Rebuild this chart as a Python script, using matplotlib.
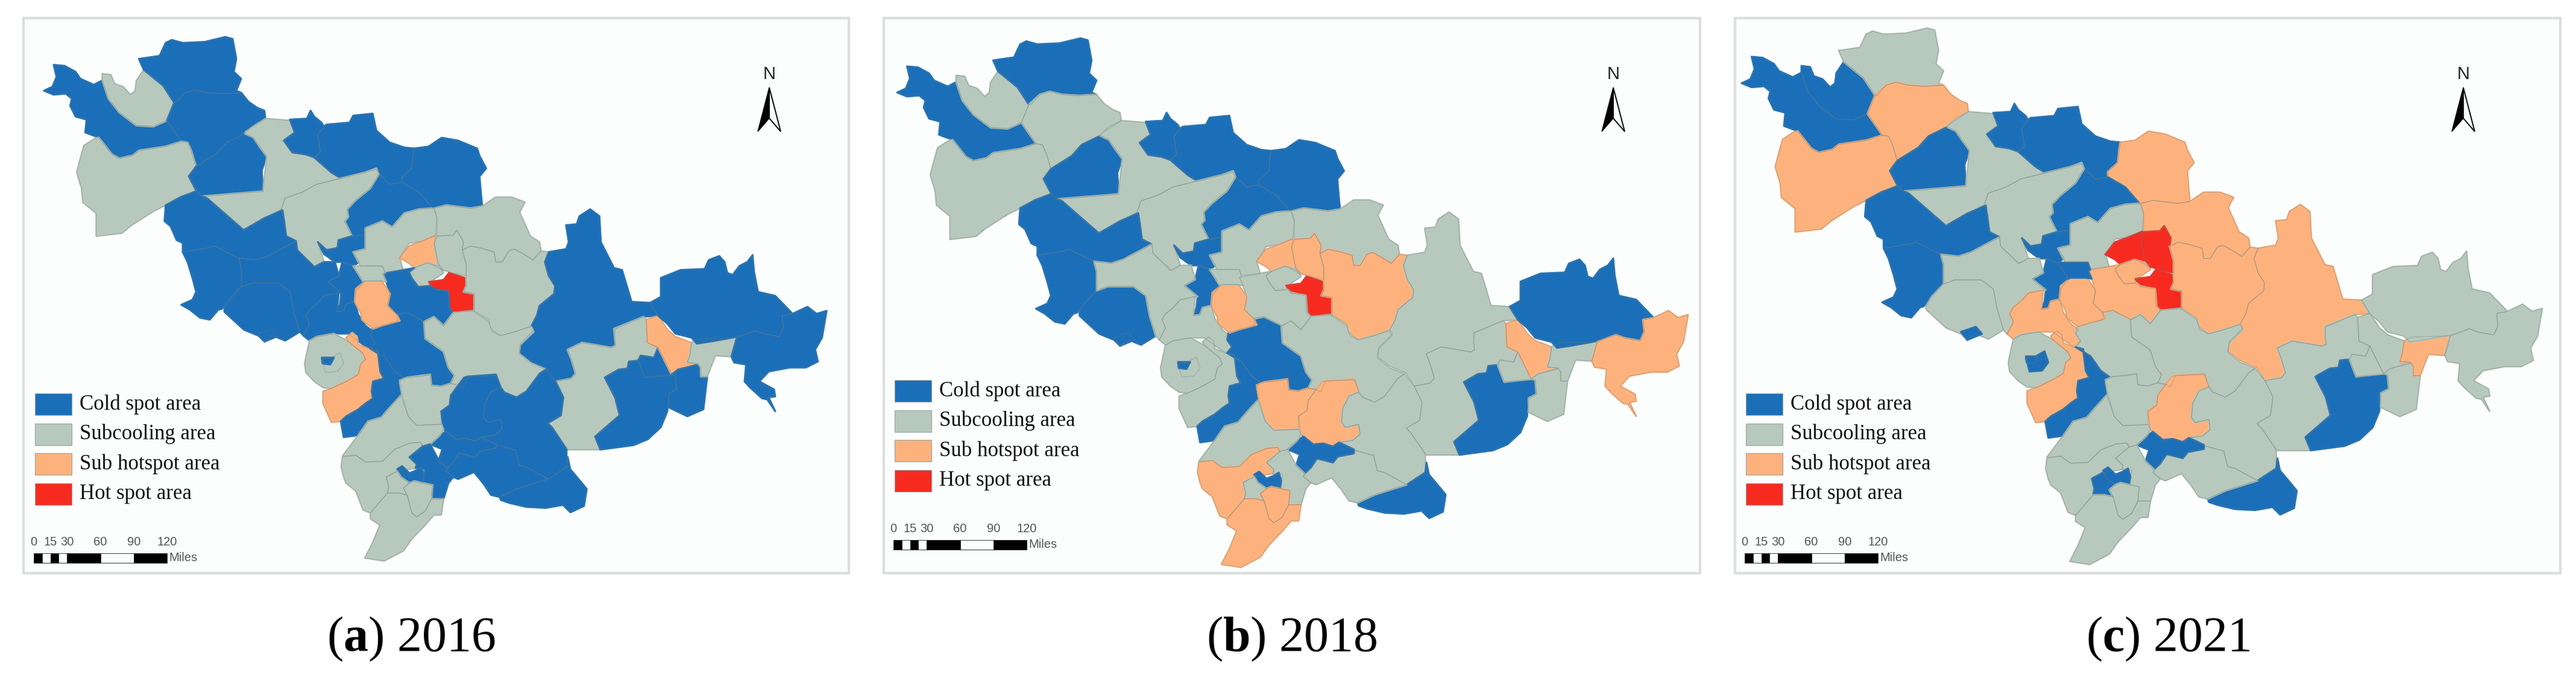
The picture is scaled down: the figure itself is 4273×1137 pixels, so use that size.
import matplotlib
matplotlib.use('Agg')
import matplotlib.pyplot as plt
from matplotlib.patches import Polygon, Rectangle

plt.rcParams['font.family'] = ['Liberation Serif', 'DejaVu Sans']
plt.rcParams['mathtext.fontset'] = 'custom'
plt.rcParams['mathtext.bf'] = 'Liberation Serif:bold'
plt.rcParams['mathtext.rm'] = 'Liberation Serif'

W, H = 4273, 1137

nw_strip = [(60,180),(105,185),(150,215),(170,250),(225,280),(260,258),(285,350),(330,420),(400,485),(470,490),(525,460),(585,565),(520,590),(410,610),(385,635),(330,650),(300,630),(245,545),(190,520),(195,455),(150,440),(128,385),(135,350),(110,325),(60,330),(20,310),(55,290),(72,240)]
nw_pocket = [(260,225),(295,230),(310,275),(345,290),(375,330),(395,310),(400,260),(430,205),(510,285),(555,370),(525,460),(470,490),(400,485),(330,420),(285,350),(260,258)]
north_top = [(410,150),(495,135),(520,70),(545,55),(590,70),(680,65),(765,40),(795,50),(810,150),(800,215),(830,250),(810,310),(830,320),(760,325),(690,320),(640,305),(600,320),(565,370),(555,370),(510,285),(430,205)]
north_mid = [(555,370),(600,320),(640,305),(690,320),(760,325),(830,320),(860,365),(895,395),(925,410),(930,450),(880,480),(850,515),(845,525),(770,570),(730,625),(645,690),(625,610),(610,570),(585,565),(525,460)]
west_big = [(185,585),(230,550),(245,545),(300,630),(330,650),(385,635),(410,610),(520,590),(585,565),(610,570),(625,610),(645,690),(615,740),(645,810),(580,845),(520,885),(470,915),(380,985),(340,1025),(235,1040),(235,925),(180,870),(175,800),(155,720),(170,650)]
diamond = [(845,525),(880,545),(905,590),(935,640),(915,710),(920,815),(670,840),(645,810),(615,740),(645,690),(730,625),(770,570)]
wedge = [(850,515),(930,450),(1030,460),(1050,520),(1005,560),(1040,620),(1095,630),(1130,645),(1200,720),(1240,750),(1140,780),(1080,820),(1010,850),(995,905),(925,950),(840,1010),(690,850),(670,840),(920,815),(935,640),(905,590),(880,545),(845,525)]
n_centre_a = [(1030,455),(1100,450),(1115,410),(1130,440),(1160,470),(1170,490),(1145,530),(1155,620),(1130,645),(1095,630),(1040,620),(1005,560),(1050,520)]
n_centre_b = [(1170,490),(1180,480),(1275,470),(1290,435),(1370,425),(1385,510),(1440,570),(1500,595),(1540,600),(1535,640),(1530,700),(1490,745),(1490,770),(1440,780),(1400,730),(1385,705),(1340,720),(1240,750),(1200,720),(1130,645),(1155,620),(1145,530)]
n_east = [(1540,600),(1600,590),(1653,546),(1720,560),(1799,600),(1810,640),(1836,700),(1809,740),(1815,830),(1820,890),(1771,900),(1672,885),(1617,900),(1560,820),(1490,770),(1490,745),(1530,700),(1535,640)]
n_south = [(1395,730),(1440,780),(1490,770),(1560,820),(1617,900),(1560,905),(1500,925),(1450,995),(1410,965),(1340,1000),(1340,1030),(1285,1040),(1255,965),(1270,945),(1265,905),(1300,860),(1360,800)]
corridor = [(995,905),(1010,850),(1080,820),(1140,780),(1240,750),(1340,720),(1385,700),(1395,730),(1360,800),(1300,860),(1265,905),(1270,945),(1255,965),(1285,1040),(1230,1060),(1225,1100),(1180,1110),(1145,1070),(1170,1170),(1135,1195),(1060,1110),(1055,1060),(1015,1040),(1010,960)]
cross_a = [(1145,1070),(1180,1110),(1225,1100),(1230,1060),(1285,1040),(1340,1030),(1340,1105),(1290,1120),(1315,1170),(1290,1190),(1245,1170),(1215,1170),(1170,1130)]
cross_b = [(1245,1170),(1290,1190),(1311,1230),(1331,1270),(1301,1320),(1296,1370),(1261,1380),(1251,1415),(1223,1420),(1236,1380),(1241,1325),(1186,1270),(1231,1240)]
centre_n = [(1340,1000),(1410,965),(1450,995),(1500,925),(1560,905),(1617,900),(1623,910),(1634,950),(1628,1035),(1574,1065),(1519,1075),(1480,1150),(1495,1210),(1420,1220),(1410,1190),(1320,1190),(1290,1120),(1340,1105)]
centre_ne = [(1623,900),(1672,885),(1771,900),(1820,890),(1875,845),(1940,845),(1995,870),(1973,920),(2017,1040),(2055,1070),(2061,1115),(2028,1160),(1989,1130),(1951,1105),(1929,1115),(1902,1170),(1875,1170),(1869,1120),(1814,1100),(1771,1090),(1738,1110),(1743,1070),(1716,1010),(1700,1035),(1634,1040),(1634,950)]
hot_left = [(1480,1150),(1519,1090),(1574,1065),(1628,1038),(1623,1080),(1639,1180),(1661,1215),(1640,1200),(1596,1172),(1541,1200),(1519,1175)]
hot_peak = [(1634,1040),(1700,1035),(1716,1010),(1743,1070),(1738,1110),(1754,1180),(1754,1240),(1700,1225),(1661,1210),(1639,1180),(1623,1080)]
small_ring = [(1541,1200),(1596,1175),(1639,1190),(1661,1225),(1606,1270),(1601,1290),(1557,1295),(1530,1250),(1519,1220)]
hot_core = [(1601,1270),(1661,1260),(1683,1225),(1749,1250),(1754,1290),(1743,1320),(1787,1330),(1787,1415),(1700,1420),(1683,1400),(1683,1310),(1623,1310)]
east_of_hot = [(1738,1110),(1771,1090),(1814,1100),(1869,1120),(1875,1170),(1902,1170),(1929,1115),(1951,1105),(1989,1130),(2028,1160),(2061,1115),(2093,1120),(2077,1170),(2093,1240),(2119,1290),(2115,1330),(2055,1390),(2044,1440),(2022,1490),(1957,1520),(1891,1540),(1853,1500),(1847,1460),(1787,1415),(1787,1330),(1743,1320),(1754,1290),(1754,1180)]
tall_east = [(2093,1120),(2164,1105),(2175,1070),(2164,985),(2208,980),(2219,940),(2263,905),(2301,940),(2307,1070),(2361,1200),(2394,1210),(2433,1370),(2509,1375),(2542,1440),(2482,1445),(2367,1505),(2361,1560),(2367,1590),(2350,1600),(2230,1575),(2170,1610),(2186,1660),(2203,1730),(2186,1755),(2121,1770),(2088,1705),(2022,1670),(1973,1625),(1979,1575),(2033,1510),(2022,1490),(2044,1440),(2055,1390),(2115,1330),(2119,1290),(2093,1240),(2077,1170)]
se_gray = [(2121,1770),(2186,1755),(2203,1730),(2186,1660),(2170,1610),(2230,1575),(2350,1600),(2367,1590),(2361,1505),(2482,1445),(2493,1460),(2498,1575),(2542,1600),(2525,1650),(2470,1640),(2460,1665),(2422,1670),(2416,1705),(2380,1710),(2323,1750),(2365,1850),(2384,1940),(2283,2047),(2305,2112),(2170,2112),(2106,2000),(2088,1980),(2143,1940),(2153,1850)]
se_blue = [(2323,1750),(2380,1710),(2416,1705),(2422,1670),(2460,1665),(2487,1750),(2613,1740),(2618,1810),(2586,1830),(2580,1920),(2553,2000),(2500,2060),(2441,2090),(2305,2112),(2283,2047),(2384,1940),(2365,1850)]
sliver = [(2470,1640),(2525,1650),(2542,1600),(2597,1735),(2487,1750),(2460,1665)]
strip_orange = [(2493,1460),(2542,1440),(2580,1510),(2613,1545),(2679,1575),(2673,1635),(2662,1675),(2706,1680),(2624,1710),(2597,1735),(2542,1600),(2498,1575)]
east_narrow = [(2597,1735),(2624,1710),(2706,1685),(2717,1700),(2717,1745),(2744,1745),(2728,1910),(2662,1945),(2586,1900),(2586,1830),(2618,1810),(2613,1740)]
east_link = [(2679,1575),(2712,1555),(2865,1550),(2843,1645),(2777,1640),(2761,1690),(2744,1745),(2717,1745),(2717,1700),(2706,1680),(2662,1675),(2673,1635)]
ne_big = [(2509,1375),(2553,1345),(2553,1250),(2635,1210),(2733,1205),(2750,1160),(2793,1140),(2815,1170),(2826,1225),(2848,1235),(2876,1190),(2908,1170),(2930,1135),(2936,1220),(2952,1320),(3023,1340),(3094,1430),(3051,1440),(3056,1500),(3040,1545),(2974,1530),(2941,1515),(2870,1545),(2755,1570),(2701,1580),(2679,1550),(2613,1530),(2580,1480),(2542,1440)]
far_east = [(3051,1440),(3094,1430),(3155,1395),(3193,1430),(3234,1415),(3215,1550),(3187,1610),(3198,1670),(3149,1700),(3083,1700),(2996,1720),(2958,1770),(3018,1810),(3023,1845),(2996,1850),(3023,1920),(2990,1860),(2969,1855),(2919,1800),(2897,1770),(2903,1685),(2854,1675),(2843,1645),(2865,1550),(2941,1515),(2974,1530),(3040,1545),(3056,1500)]
west_upper = [(520,885),(580,845),(645,815),(670,840),(690,850),(840,1010),(925,950),(1000,910),(1015,1040),(1055,1065),(940,1140),(890,1160),(820,1150),(720,1090),(690,1100),(590,1120),(590,1075),(565,1060),(540,990),(515,965)]
west_lower = [(590,1120),(690,1100),(720,1090),(820,1150),(831,1200),(831,1290),(781,1360),(751,1405),(736,1410),(701,1460),(661,1450),(620,1410),(584,1385),(630,1360),(645,1320),(630,1250),(610,1170)]
west_oval = [(831,1295),(876,1275),(981,1275),(1031,1320),(1046,1420),(1071,1520),(1011,1565),(961,1540),(926,1570),(901,1540),(841,1510),(761,1420),(761,1405),(781,1360)]
oval_spot = [(900,1530),(960,1505),(985,1540),(926,1570)]
mid_west = [(820,1150),(890,1160),(940,1140),(1055,1065),(1060,1110),(1130,1195),(1170,1170),(1215,1170),(1231,1240),(1186,1270),(1241,1325),(1231,1325),(1171,1340),(1141,1380),(1111,1410),(1096,1440),(1111,1480),(1086,1540),(1071,1520),(1046,1420),(1031,1320),(981,1275),(876,1275),(831,1295),(831,1200)]
mid_core = [(1171,1340),(1231,1325),(1223,1420),(1251,1415),(1261,1380),(1296,1370),(1311,1435),(1341,1490),(1371,1520),(1361,1540),(1381,1575),(1356,1605),(1301,1560),(1271,1530),(1211,1530),(1141,1545),(1111,1565),(1086,1540),(1111,1480),(1096,1440),(1111,1410),(1141,1380)]
ring = [(1111,1565),(1141,1545),(1211,1530),(1271,1570),(1331,1630),(1341,1660),(1321,1680),(1311,1735),(1261,1770),(1201,1805),(1166,1800),(1131,1770),(1096,1725),(1091,1680),(1101,1620)]
ring_inner = [(1161,1655),(1201,1650),(1236,1625),(1251,1680),(1226,1720),(1176,1725)]
ring_spot = [(1161,1650),(1211,1650),(1196,1685),(1164,1680)]
crescent = [(1261,1550),(1286,1525),(1306,1545),(1311,1585),(1361,1610),(1391,1615),(1401,1720),(1416,1755),(1371,1770),(1366,1820),(1371,1855),(1341,1880),(1311,1910),(1261,1945),(1236,1970),(1201,1975),(1166,1880),(1166,1820),(1201,1805),(1261,1770),(1311,1735),(1321,1680),(1341,1660),(1331,1630),(1271,1570)]
south_blue = [(1366,1505),(1471,1470),(1471,1430),(1511,1425),(1581,1470),(1586,1555),(1661,1620),(1681,1700),(1706,1740),(1691,1780),(1651,1795),(1611,1790),(1606,1735),(1566,1745),(1496,1750),(1461,1720),(1421,1650),(1361,1605),(1381,1575),(1361,1540)]
long_strip = [(1361,1605),(1421,1650),(1461,1720),(1496,1750),(1476,1775),(1486,1840),(1441,1900),(1406,1950),(1351,1970),(1311,2040),(1251,2050),(1239,1970),(1261,1945),(1311,1910),(1341,1880),(1371,1855),(1366,1820),(1371,1770),(1416,1755),(1401,1720),(1391,1615)]
under_hot = [(1411,1230),(1495,1210),(1541,1200),(1519,1220),(1530,1250),(1557,1295),(1606,1290),(1621,1305),(1681,1320),(1686,1405),(1701,1425),(1661,1490),(1621,1445),(1586,1470),(1511,1425),(1471,1435),(1431,1390),(1441,1330),(1426,1270)]
pill = [(1296,1370),(1301,1305),(1341,1265),(1406,1265),(1426,1300),(1441,1330),(1431,1390),(1471,1440),(1481,1465),(1406,1490),(1371,1505),(1326,1460),(1321,1425)]
tiny_north = [(1320,1190),(1410,1190),(1420,1225),(1411,1230),(1426,1270),(1406,1265),(1341,1265),(1331,1270),(1311,1230),(1290,1190)]
centre_big = [(1661,1490),(1701,1425),(1781,1415),(1846,1470),(1861,1520),(1896,1540),(2021,1495),(2031,1520),(1976,1585),(1971,1630),(2021,1680),(2081,1710),(2056,1730),(2001,1820),(1961,1850),(1911,1825),(1896,1800),(1881,1740),(1761,1745),(1741,1800),(1721,1785),(1691,1780),(1706,1740),(1681,1700),(1661,1620),(1586,1555),(1581,1470),(1621,1445)]
south_o1 = [(1481,1765),(1511,1750),(1606,1735),(1611,1790),(1651,1795),(1691,1780),(1721,1790),(1691,1840),(1686,1890),(1651,1920),(1651,1985),(1551,1990),(1516,1945),(1491,1840)]
south_o2 = [(1746,1750),(1761,1745),(1876,1735),(1896,1800),(1856,1820),(1831,1880),(1826,1950),(1841,1975),(1896,1960),(1901,2010),(1871,2040),(1816,2050),(1791,2070),(1751,2055),(1711,2060),(1661,2010),(1651,1920),(1686,1890),(1691,1840),(1721,1790)]
south_gray = [(1856,1820),(1896,1800),(1911,1825),(1961,1850),(2001,1820),(2056,1730),(2081,1710),(2121,1770),(2153,1850),(2143,1940),(2088,1980),(2106,2000),(2166,2110),(2166,2200),(2091,2260),(2001,2200),(1971,2190),(1956,2115),(1881,2090),(1816,2050),(1871,2040),(1901,2010),(1896,1960),(1841,1975),(1826,1950),(1831,1880)]
south_tip = [(1891,2350),(1961,2310),(2091,2260),(2166,2200),(2171,2150),(2181,2210),(2229,2280),(2249,2310),(2238,2395),(2182,2427),(2151,2390),(2081,2405),(2001,2400),(1931,2380),(1896,2365)]
south_mid = [(1881,2090),(1956,2115),(1971,2190),(2001,2200),(2091,2260),(1961,2310),(1891,2350),(1856,2340),(1826,2285),(1786,2225),(1721,2260),(1701,2250),(1671,2220),(1676,2205),(1701,2175),(1726,2130),(1791,2150),(1811,2120),(1876,2105)]
south_cross = [(1606,2085),(1646,2040),(1671,2020),(1711,2060),(1751,2055),(1791,2070),(1816,2050),(1876,2085),(1876,2105),(1811,2120),(1791,2150),(1726,2130),(1701,2175),(1676,2205),(1641,2165),(1656,2110)]
sw_gray = [(1246,2145),(1286,2080),(1311,2040),(1351,1970),(1406,1950),(1441,1900),(1486,1840),(1516,1945),(1551,1990),(1651,1985),(1661,2010),(1646,2040),(1606,2085),(1576,2095),(1566,2075),(1521,2080),(1461,2110),(1411,2170),(1341,2175),(1301,2140)]
sw_orange = [(1246,2150),(1301,2140),(1341,2175),(1411,2170),(1461,2110),(1521,2080),(1566,2075),(1576,2095),(1521,2150),(1551,2185),(1546,2205),(1471,2220),(1426,2250),(1436,2300),(1431,2330),(1361,2430),(1331,2415),(1301,2320),(1261,2280),(1251,2250),(1241,2200)]
s_inner = [(1576,2095),(1606,2085),(1641,2165),(1676,2205),(1671,2220),(1701,2250),(1681,2280),(1661,2360),(1611,2360),(1616,2290),(1576,2280),(1586,2210),(1546,2205),(1551,2185),(1521,2150)]
s_hook = [(1471,2210),(1491,2195),(1521,2230),(1551,2215),(1571,2200),(1581,2240),(1576,2280),(1541,2270),(1521,2280),(1486,2250)]
s_small = [(1426,2250),(1471,2220),(1486,2250),(1521,2280),(1496,2305),(1511,2340),(1476,2330),(1431,2330),(1436,2300)]
s_oval = [(1496,2305),(1521,2280),(1541,2270),(1576,2280),(1616,2290),(1611,2360),(1586,2420),(1551,2450),(1531,2430),(1516,2360),(1511,2340)]
s_end = [(1361,2430),(1431,2330),(1476,2330),(1511,2340),(1516,2360),(1531,2430),(1551,2450),(1586,2420),(1611,2360),(1661,2360),(1651,2440),(1621,2440),(1586,2490),(1531,2560),(1496,2620),(1417,2671),(1338,2656),(1370,2580),(1390,2520),(1400,2490),(1361,2460)]

shapes = [nw_strip, nw_pocket, north_top, north_mid, west_big, diamond, wedge, n_centre_a, n_centre_b,
          n_east, n_south, corridor, cross_a, cross_b, centre_n, centre_ne, hot_left, hot_peak, small_ring,
          hot_core, east_of_hot, tall_east, se_gray, se_blue, sliver, strip_orange, east_narrow, east_link,
          ne_big, far_east, west_upper, west_lower, west_oval, oval_spot, mid_west, mid_core, ring, ring_inner,
          ring_spot, crescent, south_blue, long_strip, under_hot, pill, tiny_north, centre_big, south_o1,
          south_o2, south_gray, south_tip, south_mid, south_cross, sw_gray, sw_orange, s_inner, s_hook,
          s_small, s_oval, s_end]

# Class of each region per year: 0 cold, 1 subcooling, 2 sub hotspot, 3 hot
class_2016 = [0,1,0,0,1,0,1,0,0, 0,0,1,0,0,1,1,2,1,1, 3,1,0,1,0,0,2,0,1, 0,0,0,0,0,0,0,0,1,1, 0,2,0,0,0,2,1,1,1, 0,0,0,0,0,1,1,0,0, 1,1,1]
class_2018 = [0,1,0,1,1,0,1,0,0, 0,0,1,0,0,1,1,2,2,1, 3,2,1,1,0,1,2,1,1, 0,2,0,0,0,0,1,1,1,1, 0,1,0,0,1,2,1,1,2, 2,1,0,1,0,1,2,1,0, 1,2,2]
class_2021 = [0,0,1,2,2,0,1,0,0, 2,0,1,0,0,1,2,3,3,2, 3,2,2,1,0,1,1,1,2, 1,1,0,0,1,0,1,2,1,0, 0,2,1,0,2,2,0,1,1, 2,1,0,1,0,1,1,1,0, 0,1,1]

legend_labels = ['Cold spot area', 'Subcooling area', 'Sub hotspot area', 'Hot spot area']
class_colors = ['#1b6fb8', '#b7c8bc', '#fdb27d', '#f72a20']
scale_ticks = [0, 15, 30, 60, 90, 120]
scale_parts = [0, 7.5, 15, 22.5, 30, 60, 90, 120]
captions = [r'($\mathbf{a}$) 2016', r'($\mathbf{b}$) 2018', r'($\mathbf{c}$) 2021']
year_classes = [class_2016, class_2018, class_2021]

# Pixel layout of each panel
box_x = [(39, 1408), (1466, 2820), (2878, 4247)]
box_y = (30, 950)
map_fit = [(64.7, 0.404, 48.0, 0.3301), (1480, 0.4082, 50, 0.3333), (2880.7, 0.4132, 33.2, 0.3378)]
legend_xy = [(58, 652), (1484, 630), (2896, 652)]
north_x = [1276, 2676, 4086]
caption_x = [682, 2143, 3596]

fig = plt.figure(figsize=(W / 100, H / 100), dpi=100, facecolor='white')

for i in range(3):
    x1, x2 = box_x[i]
    y1, y2 = box_y
    ax = fig.add_axes([x1 / W, 1 - y2 / H, (x2 - x1) / W, (y2 - y1) / H], facecolor='#fcfefe')
    x0, kx, y0, ky = map_fit[i]
    ax.set_xlim((x1 - x0) / kx, (x2 - x0) / kx)
    ax.set_ylim((y2 - y0) / ky, (y1 - y0) / ky)
    ax.set_xticks([])
    ax.set_yticks([])
    for s in ax.spines.values():
        s.set_color('#dcdedd')
        s.set_linewidth(3)
    # first pass closes slivers between neighbours, second adds the thin boundaries
    for pts, c in zip(shapes, year_classes[i]):
        ax.add_patch(Polygon(pts, closed=True, facecolor=class_colors[c], edgecolor=class_colors[c], linewidth=2.2, joinstyle='round'))
    for pts in shapes:
        ax.add_patch(Polygon(pts, closed=True, facecolor='none', edgecolor='#6f7f80', linewidth=0.8, alpha=0.4))

# Legend, scale bar, north arrow and captions go on a pixel overlay
ov = fig.add_axes([0, 0, 1, 1], facecolor='none')
ov.set_xlim(0, W)
ov.set_ylim(H, 0)
ov.axis('off')

for i in range(3):
    lx, ly = legend_xy[i]
    for j, (lab, col) in enumerate(zip(legend_labels, class_colors)):
        top = ly + j * 49.5
        ov.add_patch(Rectangle((lx, top), 61, 36, facecolor=col, edgecolor='#9aa5a5', linewidth=0.8))
        ov.text(lx + 74, top + 18, lab, fontsize=25, va='center', ha='left', color='#111111')

    # scale bar sits just under the legend
    bx = lx - 2
    by = ly + 265
    unit = 221 / 120
    for k in range(len(scale_parts) - 1):
        a, b = scale_parts[k], scale_parts[k + 1]
        ov.add_patch(Rectangle((bx + a * unit, by), (b - a) * unit, 16, facecolor='black' if k % 2 == 0 else 'white', edgecolor='#222222', linewidth=0.6))
    for t in scale_ticks:
        ov.text(bx + t * unit, by - 19, str(t), fontsize=14.5, family='Liberation Sans', ha='center', va='center', color='#555555')
    ov.text(bx + 224, by + 7, 'Miles', fontsize=14.5, family='Liberation Sans', ha='left', va='center', color='#555555')

    nx = north_x[i]
    ov.text(nx, 123, 'N', fontsize=21, family='Liberation Sans', ha='center', va='center', color='#222222')
    ov.add_patch(Polygon([(nx, 145), (nx - 19, 218), (nx, 196)], closed=True, facecolor='black', edgecolor='black', linewidth=1))
    ov.add_patch(Polygon([(nx, 145), (nx + 19, 218), (nx, 196)], closed=True, facecolor='white', edgecolor='black', linewidth=1.4))

    ov.text(caption_x[i], 1059, captions[i], fontsize=59, ha='center', va='center', color='black')

fig.savefig('out.png', dpi=100, facecolor='white')
